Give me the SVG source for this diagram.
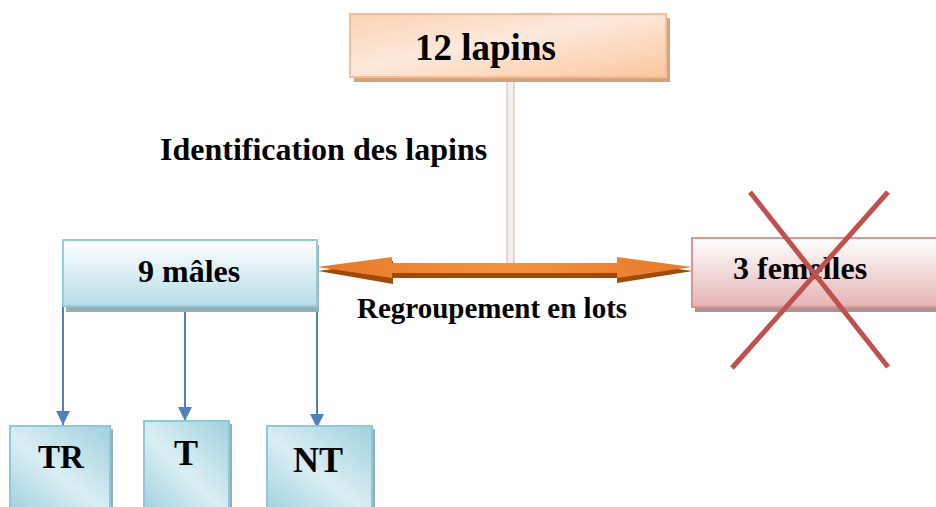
<svg xmlns="http://www.w3.org/2000/svg" width="936" height="507" viewBox="0 0 936 507">
<defs>
<linearGradient id="gOrange" x1="0" y1="0" x2="1" y2="1">
<stop offset="0" stop-color="#fbd2b4"/>
<stop offset="0.45" stop-color="#fde9dc"/>
<stop offset="0.7" stop-color="#fcd9bf"/>
<stop offset="1" stop-color="#fbc79f"/>
</linearGradient>
<linearGradient id="gBlueV" x1="0" y1="0" x2="0" y2="1">
<stop offset="0" stop-color="#ffffff"/>
<stop offset="1" stop-color="#b7dce7"/>
</linearGradient>
<linearGradient id="gRed" x1="0" y1="0" x2="0" y2="1">
<stop offset="0" stop-color="#ffffff"/>
<stop offset="1" stop-color="#e4b3b3"/>
</linearGradient>
<linearGradient id="gBlueD" x1="0" y1="1" x2="1" y2="0">
<stop offset="0" stop-color="#a2d3e0"/>
<stop offset="0.45" stop-color="#daeef3"/>
<stop offset="1" stop-color="#9fd1df"/>
</linearGradient>
<linearGradient id="gArrow" x1="0" y1="0" x2="1" y2="0">
<stop offset="0" stop-color="#e6792a"/>
<stop offset="0.5" stop-color="#f2923f"/>
<stop offset="1" stop-color="#e6792a"/>
</linearGradient>
<marker id="ah" viewBox="0 0 10 10" refX="10" refY="5" markerWidth="7" markerHeight="7" markerUnits="strokeWidth" orient="auto">
<path d="M0,0 L10,5 L0,10 z" fill="#4f81bd"/>
</marker>
<style>
text{font-family:"Liberation Serif","Times New Roman",serif;font-weight:bold;fill:#000}
.conn{stroke:#4f81bd;stroke-width:2;fill:none}
.small{stroke:#8fc9d8;stroke-width:2;fill:url(#gBlueD)}
.sh{fill:#8fb0b8}
</style>
</defs>

<g id="connectors">
<rect x="507" y="78" width="7" height="188" fill="#f0f0f0" stroke="#d9b89e" stroke-width="1"/>
<g id="double-arrow">
<path d="M318,269 L393,259 L393,265 L617,265 L617,259 L693,269 L617,281 L617,276 L393,276 L393,282 Z" fill="#a04a0a" transform="translate(0,2)"/>
<path d="M317,267 L392,257 L392,263 L617,263 L617,257 L692,267 L617,278 L617,273 L392,273 L392,278 Z" fill="url(#gArrow)"/>
</g>
<line class="conn" x1="63" y1="306" x2="63" y2="425" marker-end="url(#ah)"/>
<line class="conn" x1="185" y1="312" x2="185" y2="421" marker-end="url(#ah)"/>
<line class="conn" x1="317" y1="306" x2="317" y2="428" marker-end="url(#ah)"/>
</g>

<g id="node-12-lapins">
<rect x="354" y="18" width="316" height="64" fill="#d3a27f"/>
<rect x="350" y="14" width="316" height="63" fill="url(#gOrange)" stroke="#f8bd91" stroke-width="2"/>
<text x="415" y="60" font-size="37">12 lapins</text>
</g>

<g id="node-9-males">
<rect x="66" y="245" width="253" height="67" fill="#94aeb4"/>
<rect x="63" y="240" width="254" height="66" fill="url(#gBlueV)" stroke="#93cddd" stroke-width="2"/>
<text x="138" y="282" font-size="32">9 mâles</text>
</g>

<g id="node-3-femelles">
<rect x="695" y="244" width="250" height="68" fill="#b39191"/>
<rect x="692" y="238" width="250" height="69" fill="url(#gRed)" stroke="#d99594" stroke-width="2"/>
<text x="733" y="279" font-size="32">3 femelles</text>
<g id="cross" stroke="#c0504d" stroke-width="5">
<line x1="750" y1="192" x2="888" y2="367"/>
<line x1="888" y1="192" x2="732" y2="368"/>
</g>
</g>

<text x="160" y="160" font-size="32">Identification des lapins</text>
<text x="357" y="318" font-size="29">Regroupement en lots</text>

<g id="node-TR">
<rect class="sh" x="13" y="429" width="100" height="80"/>
<rect class="small" x="10" y="426" width="100" height="82"/>
<text x="38" y="468" font-size="33">TR</text>
</g>
<g id="node-T">
<rect class="sh" x="147" y="424" width="85" height="85"/>
<rect class="small" x="144" y="421" width="85" height="87"/>
<text x="174" y="465" font-size="36">T</text>
</g>
<g id="node-NT">
<rect class="sh" x="270" y="429" width="105" height="80"/>
<rect class="small" x="267" y="426" width="105" height="82"/>
<text x="293" y="472" font-size="36">NT</text>
</g>
</svg>
